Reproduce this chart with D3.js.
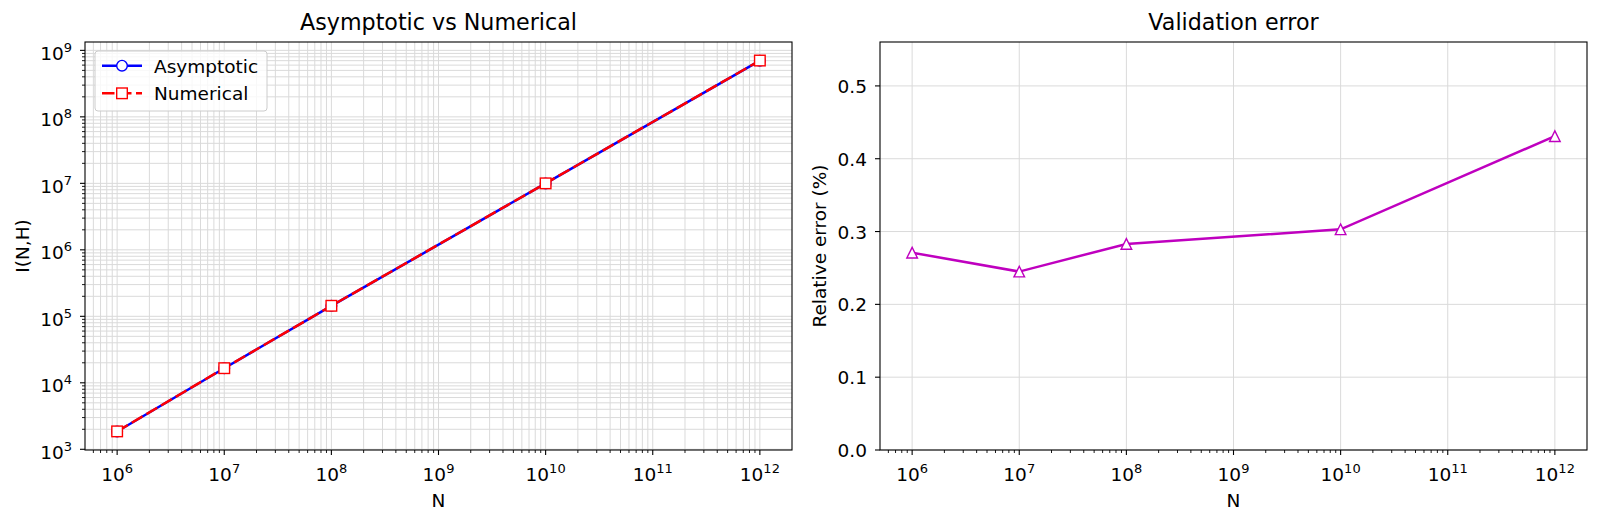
<!DOCTYPE html>
<html>
<head>
<meta charset="utf-8">
<script src="https://cdn.jsdelivr.net/npm/d3@7"></script>
<style>
  html, body { margin: 0; padding: 0; background: #fff; }
  svg { display: block; }
  text { font-family: "DejaVu Sans", sans-serif; fill: #000; }
</style>
</head>
<body>
<svg id="chart" width="1600" height="524"></svg>
<script>
// ---------- data ----------
const N = [1e6, 1e7, 1e8, 1e10, 1e12];
const asymptotic = [1855, 16560, 143600, 9.97e6, 7.00e8];
const numerical = [1860, 16600, 144000, 1.00e7, 7.03e8];
const relError = [0.271, 0.245, 0.283, 0.303, 0.431];
const xTickExps = [6, 7, 8, 9, 10, 11, 12];
const yTickExps = [3, 4, 5, 6, 7, 8, 9];
const errTicks = [0.0, 0.1, 0.2, 0.3, 0.4, 0.5];
const titles = ["Asymptotic vs Numerical", "Validation error"];
const xLabel = "N";
const yLabels = ["I(N,H)", "Relative error (%)"];
const seriesNames = ["Asymptotic", "Numerical"];

// ---------- layout ----------
const svg = d3.select("#chart");
const FS = 18.5, SUP = 13;
const topY = 42, botY = 450;
const L = {x0: 85, x1: 792};
const R = {x0: 880, x1: 1587};
const gridColor = "#dadada";

function logPad(vals) {
  const lo = Math.log10(d3.min(vals)), hi = Math.log10(d3.max(vals));
  const m = (hi - lo) * 0.05;
  return [Math.pow(10, lo - m), Math.pow(10, hi + m)];
}
function minorTicks(domain) {
  const out = [];
  const a = Math.floor(Math.log10(domain[0])), b = Math.ceil(Math.log10(domain[1]));
  for (let e = a; e <= b; e++) for (let k = 2; k <= 9; k++) {
    const v = k * Math.pow(10, e);
    if (v >= domain[0] && v <= domain[1]) out.push(v);
  }
  return out;
}
function powLabel(sel, e) {
  sel.append("tspan").text("10");
  sel.append("tspan").attr("font-size", SUP).attr("dy", -8).text(e);
}

const xDom = logPad(N);
const xL = d3.scaleLog().domain(xDom).range([L.x0, L.x1]);
const xR = d3.scaleLog().domain(xDom).range([R.x0, R.x1]);
const yL = d3.scaleLog().domain(logPad(asymptotic.concat(numerical))).range([botY, topY]);
const yR = d3.scaleLinear().domain([0, d3.max(relError) * 1.3]).range([botY, topY]);

// ---------- left panel ----------
const gl = svg.append("g");
const xMinorL = minorTicks(xL.domain()), yMinorL = minorTicks(yL.domain());
const xMajorVals = xTickExps.map(e => Math.pow(10, e));
const yMajorVals = yTickExps.map(e => Math.pow(10, e)).filter(v => v >= yL.domain()[0] * 0.999);
gl.selectAll(null).data(xMinorL.concat(xMajorVals)).join("line")
  .attr("x1", d => xL(d)).attr("x2", d => xL(d)).attr("y1", topY).attr("y2", botY)
  .attr("stroke", gridColor).attr("stroke-width", 1);
gl.selectAll(null).data(yMinorL.concat(yMajorVals)).join("line")
  .attr("x1", L.x0).attr("x2", L.x1).attr("y1", d => yL(d)).attr("y2", d => yL(d))
  .attr("stroke", gridColor).attr("stroke-width", 1);

const ptsA = N.map((n, i) => [xL(n), yL(asymptotic[i])]);
const ptsN = N.map((n, i) => [xL(n), yL(numerical[i])]);
gl.append("path").attr("d", d3.line()(ptsA)).attr("fill", "none")
  .attr("stroke", "#0000ff").attr("stroke-width", 2.5);
gl.selectAll(null).data(ptsA).join("circle")
  .attr("cx", d => d[0]).attr("cy", d => d[1]).attr("r", 5.3)
  .attr("fill", "#fff").attr("stroke", "#0000ff").attr("stroke-width", 1.4);
gl.append("path").attr("d", d3.line()(ptsN)).attr("fill", "none")
  .attr("stroke", "#ff0000").attr("stroke-width", 2.5).attr("stroke-dasharray", "12.5,4.5");
gl.selectAll(null).data(ptsN).join("rect")
  .attr("x", d => d[0] - 5.3).attr("y", d => d[1] - 5.3).attr("width", 10.6).attr("height", 10.6)
  .attr("fill", "#fff").attr("stroke", "#ff0000").attr("stroke-width", 1.4);

gl.append("rect").attr("x", L.x0).attr("y", topY).attr("width", L.x1 - L.x0).attr("height", botY - topY)
  .attr("fill", "none").attr("stroke", "#000").attr("stroke-width", 1.1);

function xTicks(g, sc, minors) {
  g.selectAll(null).data(xMajorVals).join("line")
    .attr("x1", d => sc(d)).attr("x2", d => sc(d)).attr("y1", botY).attr("y2", botY + 5)
    .attr("stroke", "#000").attr("stroke-width", 1.1);
  g.selectAll(null).data(minors).join("line")
    .attr("x1", d => sc(d)).attr("x2", d => sc(d)).attr("y1", botY).attr("y2", botY + 3)
    .attr("stroke", "#000").attr("stroke-width", 0.9);
  xTickExps.forEach(e => {
    const t = g.append("text").attr("x", sc(Math.pow(10, e))).attr("y", 481)
      .attr("text-anchor", "middle").attr("font-size", FS);
    powLabel(t, e);
  });
}
xTicks(gl, xL, xMinorL);
gl.selectAll(null).data(yMajorVals).join("line")
  .attr("x1", L.x0 - 5).attr("x2", L.x0).attr("y1", d => yL(d)).attr("y2", d => yL(d))
  .attr("stroke", "#000").attr("stroke-width", 1.1);
gl.selectAll(null).data(yMinorL).join("line")
  .attr("x1", L.x0 - 3).attr("x2", L.x0).attr("y1", d => yL(d)).attr("y2", d => yL(d))
  .attr("stroke", "#000").attr("stroke-width", 0.9);
yTickExps.forEach(e => {
  const t = gl.append("text").attr("x", L.x0 - 13).attr("y", yL(Math.pow(10, e)) + 9.5)
    .attr("text-anchor", "end").attr("font-size", FS);
  powLabel(t, e);
});

gl.append("text").attr("x", (L.x0 + L.x1) / 2).attr("y", 29.5).attr("text-anchor", "middle")
  .attr("font-size", 22.2).text(titles[0]);
gl.append("text").attr("x", (L.x0 + L.x1) / 2).attr("y", 507).attr("text-anchor", "middle")
  .attr("font-size", FS).text(xLabel);
gl.append("text").attr("transform", `translate(28.5,${(topY + botY) / 2}) rotate(-90)`)
  .attr("text-anchor", "middle").attr("font-size", FS).text(yLabels[0]);

// legend
const lg = gl.append("g");
lg.append("rect").attr("x", 95).attr("y", 51).attr("width", 172).attr("height", 60).attr("rx", 3)
  .attr("fill", "#fff").attr("fill-opacity", 0.8).attr("stroke", "#cccccc").attr("stroke-width", 1);
const legY = [65.7, 93.3];
lg.append("line").attr("x1", 102).attr("x2", 142).attr("y1", legY[0]).attr("y2", legY[0])
  .attr("stroke", "#0000ff").attr("stroke-width", 2.5);
lg.append("circle").attr("cx", 122).attr("cy", legY[0]).attr("r", 5.3)
  .attr("fill", "#fff").attr("stroke", "#0000ff").attr("stroke-width", 1.4);
lg.append("line").attr("x1", 102).attr("x2", 142).attr("y1", legY[1]).attr("y2", legY[1])
  .attr("stroke", "#ff0000").attr("stroke-width", 2.5).attr("stroke-dasharray", "12.5,4.5");
lg.append("rect").attr("x", 122 - 5.3).attr("y", legY[1] - 5.3).attr("width", 10.6).attr("height", 10.6)
  .attr("fill", "#fff").attr("stroke", "#ff0000").attr("stroke-width", 1.4);
seriesNames.forEach((s, i) => {
  lg.append("text").attr("x", 154).attr("y", legY[i] + 7).attr("font-size", FS).text(s);
});

// ---------- right panel ----------
const gr = svg.append("g");
gr.selectAll(null).data(xMajorVals).join("line")
  .attr("x1", d => xR(d)).attr("x2", d => xR(d)).attr("y1", topY).attr("y2", botY)
  .attr("stroke", gridColor).attr("stroke-width", 1);
gr.selectAll(null).data(errTicks).join("line")
  .attr("x1", R.x0).attr("x2", R.x1).attr("y1", d => yR(d)).attr("y2", d => yR(d))
  .attr("stroke", gridColor).attr("stroke-width", 1);

const ptsE = N.map((n, i) => [xR(n), yR(relError[i])]);
gr.append("path").attr("d", d3.line()(ptsE)).attr("fill", "none")
  .attr("stroke", "#bf00bf").attr("stroke-width", 2.5);
gr.selectAll(null).data(ptsE).join("path")
  .attr("d", d => `M${d[0]},${d[1] - 5.3}L${d[0] - 5.3},${d[1] + 5.3}L${d[0] + 5.3},${d[1] + 5.3}Z`)
  .attr("fill", "#fff").attr("stroke", "#bf00bf").attr("stroke-width", 1.4);

gr.append("rect").attr("x", R.x0).attr("y", topY).attr("width", R.x1 - R.x0).attr("height", botY - topY)
  .attr("fill", "none").attr("stroke", "#000").attr("stroke-width", 1.1);

xTicks(gr, xR, minorTicks(xR.domain()));
gr.selectAll(null).data(errTicks).join("line")
  .attr("x1", R.x0 - 5).attr("x2", R.x0).attr("y1", d => yR(d)).attr("y2", d => yR(d))
  .attr("stroke", "#000").attr("stroke-width", 1.1);
gr.selectAll(null).data(errTicks).join("text")
  .attr("x", R.x0 - 13).attr("y", d => yR(d) + 7).attr("text-anchor", "end")
  .attr("font-size", FS).text(d => d3.format(".1f")(d));

gr.append("text").attr("x", (R.x0 + R.x1) / 2).attr("y", 29.5).attr("text-anchor", "middle")
  .attr("font-size", 22.2).text(titles[1]);
gr.append("text").attr("x", (R.x0 + R.x1) / 2).attr("y", 507).attr("text-anchor", "middle")
  .attr("font-size", FS).text(xLabel);
gr.append("text").attr("transform", `translate(826,${(topY + botY) / 2}) rotate(-90)`)
  .attr("text-anchor", "middle").attr("font-size", FS).text(yLabels[1]);
</script>
</body>
</html>
